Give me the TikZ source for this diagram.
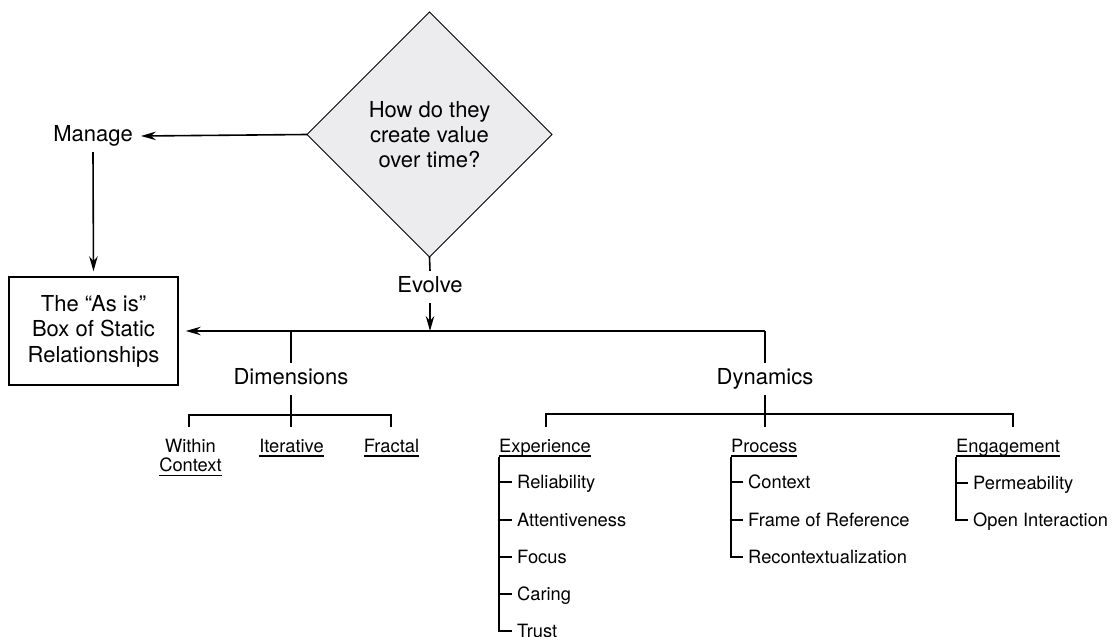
\documentclass[tikz,border=0pt]{standalone}
\usepackage{fontspec}
\setmainfont{TeX Gyre Heros}
\usetikzlibrary{arrows.meta,shapes.geometric}
\definecolor{qgray}{RGB}{236,236,238}
% underline drawn as a rule just below the baseline
\newcommand\ulined[1]{\setbox0=\hbox{#1}\rlap{\rule[-4.8pt]{\wd0}{1.5pt}}\box0}

\begin{document}
\begin{tikzpicture}[x=1pt,y=-1pt,
  conn/.style={line width=1.6pt},
  arr/.style={conn,-{Stealth[length=15pt,width=8.5pt,inset=5pt]}},
  mainlbl/.style={font=\fontsize{22}{25}\selectfont, inner xsep=8pt, inner ysep=5.5pt,
                  text height=16pt, text depth=5pt},
  head/.style={font=\fontsize{18.3}{19}\selectfont, inner sep=0pt, anchor=base west},
  chead/.style={font=\fontsize{18.3}{19}\selectfont, inner sep=0pt, anchor=base},
  item/.style={font=\fontsize{18.3}{19}\selectfont, anchor=west, inner xsep=5pt,
               inner ysep=0pt, text height=13pt, text depth=0pt},
]
\useasboundingbox (0,0) rectangle (1114,637);

% question diamond
\node[draw, line width=1pt, fill=qgray, shape=diamond, minimum width=245pt,
      minimum height=245pt, inner sep=0pt, outer sep=0pt, align=center,
      font=\fontsize{22}{25}\selectfont] (q) at (429.5,134.5)
      {How do they\\create value\\over time?};

% manage branch
\node[mainlbl] (manage) at (93,136) {Manage};
\node[draw, line width=1.5pt, minimum width=169pt, minimum height=108pt, inner sep=0pt,
      align=center, font=\fontsize{22}{25.5}\selectfont] (box) at (93.5,331)
      {The “As is”\\Box of Static\\Relationships};
\draw[arr] (q.west) -- (manage.east);
\draw[arr] (manage.south) -- ([yshift=5pt]box.north);

% evolve branch
\node[mainlbl] (evolve) at (430,287) {Evolve};
\coordinate (J) at (430,331);
\coordinate (dimTop) at (291,331);
\coordinate (dynTop) at (765,331);
\draw[conn] (q.south) -- (evolve.north);
\draw[arr] (evolve.south) -- (J);
\draw[arr] (dynTop) -- ([xshift=7pt]box.east);

% dimensions
\node[mainlbl] (dim) at (291,379) {Dimensions};
\draw[conn] (dimTop) -- (dim.north);
\coordinate (dimBar) at (291,415);
\coordinate (wDrop) at (189,427);
\coordinate (iDrop) at (291,427);
\coordinate (fDrop) at (391,427);
\draw[conn] (dim.south) -- (dimBar) -- (iDrop);
\draw[conn] (wDrop) |- (dimBar) -| (fDrop);

\node[font=\fontsize{18.3}{19}\selectfont, inner sep=0pt, anchor=north, align=center]
      (within) at (190.5,438.7) {Within\\\ulined{Context}};
\node[chead] (iter) at (291.5,452) {\ulined{Iterative}};
\node[chead] (fract) at (391.5,452) {\ulined{Fractal}};

% dynamics
\node[mainlbl] (dyn) at (765,379) {Dynamics};
\draw[conn] (dynTop) -- (dyn.north);
\coordinate (dynBar) at (765,414);
\coordinate (eDrop) at (546,427);
\coordinate (pDrop) at (765,427);
\coordinate (gDrop) at (1013,427);
\draw[conn] (dyn.south) -- (dynBar) -- (pDrop);
\draw[conn] (eDrop) |- (dynBar) -| (gDrop);

% experience
\node[head] (exp) at (499,452) {\ulined{Experience}};
\node[item] (rel) at (512,482) {Reliability};
\node[item] (att) at (512,520) {Attentiveness};
\node[item] (foc) at (512,557) {Focus};
\node[item] (car) at (512,594) {Caring};
\node[item] (tru) at (512,631) {Trust};
\draw[conn] (exp.south west) |- (tru.west);
\foreach \n in {rel,att,foc,car}
  \draw[conn] (\n.west -| exp.south west) -- (\n.west);

% process
\node[head] (proc) at (731,452) {\ulined{Process}};
\node[item] (ctx) at (743,482) {Context};
\node[item] (frm) at (743,520) {Frame of Reference};
\node[item] (rec) at (743,557) {Recontextualization};
\draw[conn] (proc.south west) |- (rec.west);
\foreach \n in {ctx,frm}
  \draw[conn] (\n.west -| proc.south west) -- (\n.west);

% engagement
\node[head] (eng) at (956,452) {\ulined{Engagement}};
\node[item] (per) at (968,483) {Permeability};
\node[item] (opn) at (968,520) {Open Interaction};
\draw[conn] (eng.south west) |- (opn.west);
\draw[conn] (per.west -| eng.south west) -- (per.west);
\end{tikzpicture}
\end{document}
